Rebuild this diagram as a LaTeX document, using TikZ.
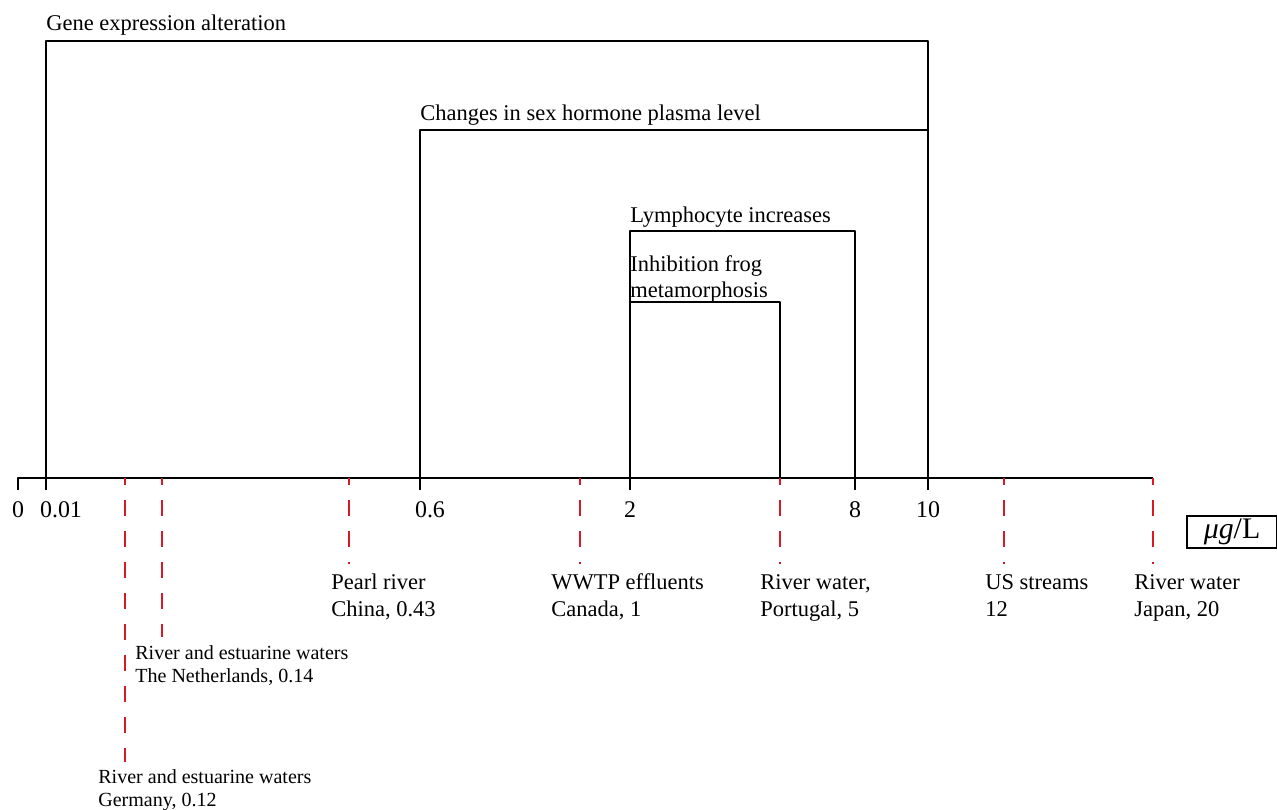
\documentclass[tikz,border=0pt]{standalone}
\usepackage{fontspec}
\setmainfont{Liberation Serif}
\begin{document}
\begin{tikzpicture}[x=0.02cm, y=-0.02cm]
\tikzset{trait/.style={line width=1.1pt, line join=round},
  seuil/.style={draw={rgb,255:red,215;green,25;blue,40}, line width=1.1pt, dash pattern=on 0.32cm off 0.3cm, dash phase=0.18cm},
  titre/.style={anchor=base west, inner sep=0pt, font=\fontsize{12.8}{15}\selectfont},
  valeur/.style={anchor=base, inner sep=0pt, font=\fontsize{13.6}{15}\selectfont},
  lieu/.style={anchor=base west, inner sep=0pt, align=left, font=\fontsize{12.8}{15.3}\selectfont},
  petitlieu/.style={anchor=base west, inner sep=0pt, align=left, font=\fontsize{11.4}{13}\selectfont}}
\useasboundingbox (0,0) rectangle (1277,809);
\coordinate (A0) at (18,478);
\coordinate (A1) at (46,478);
\coordinate (A2) at (420,478);
\coordinate (A3) at (630,478);
\coordinate (A4) at (855,478);
\coordinate (A5) at (928,478);
\coordinate (A6) at (1153,478);
\draw[trait] (18,490) -- (A0) -- (A6);
\draw[trait] (46,490) -- ++(0,-449) -| (A5);
\draw[trait] (420,490) -- ++(0,-360) -| (A5);
\draw[trait] (630,490) -- ++(0,-259) -| (855,490);
\draw[trait] (A3) -- ++(0,-176) -| (780,478);
\draw[trait] (928,478) -- (928,490);
\node[titre] (G1) at (46,30) {Gene expression alteration};
\node[titre] (G2) at (420,120) {Changes in sex hormone plasma level};
\node[titre] (G3) at (630,222) {Lymphocyte increases};
\node[titre] (G4) at (630,271) {Inhibition frog};
\node[titre] (G5) at (630,297) {metamorphosis};
\node[valeur] (V0) at (18,517) {0};
\node[valeur] (V1) at (61,517) {0.01};
\node[valeur] (V2) at (430,517) {0.6};
\node[valeur] (V3) at (630,517) {2};
\node[valeur] (V4) at (855,517) {8};
\node[valeur] (V5) at (928,517) {10};
\node[draw, line width=0.7pt, minimum width=1.8cm, minimum height=0.64cm, inner sep=0pt, font=\fontsize{17}{18}\selectfont] (U) at (1232,532) {{\itshape μg}/L};
\coordinate (R1) at (125,478);
\coordinate (R2) at (162,478);
\coordinate (R3) at (349,478);
\coordinate (R4) at (580,478);
\coordinate (R5) at (780,478);
\coordinate (R6) at (1004,478);
\coordinate (R7) at (A6);
\node[petitlieu] (P1) at (98,806) {River and estuarine waters\\Germany, 0.12};
\node[petitlieu] (P2) at (135,682) {River and estuarine waters\\The Netherlands, 0.14};
\node[lieu] (P3) at (331,616) {Pearl river\\China, 0.43};
\node[lieu] (P4) at (551,616) {WWTP effluents\\Canada, 1};
\node[lieu] (P5) at (760,616) {River water,\\Portugal, 5};
\node[lieu] (P6) at (985,616) {US streams\\12};
\node[lieu] (P7) at (1134,616) {River water\\Japan, 20};
\draw[seuil] (R1) -- (125,762);
\draw[seuil] (R2) -- (162,637);
\draw[seuil] (R3) -- (349,564);
\draw[seuil] (R4) -- (580,564);
\draw[seuil] (R5) -- (780,564);
\draw[seuil] (R6) -- (1004,564);
\draw[seuil] (R7) -- (1153,564);
\end{tikzpicture}
\end{document}
